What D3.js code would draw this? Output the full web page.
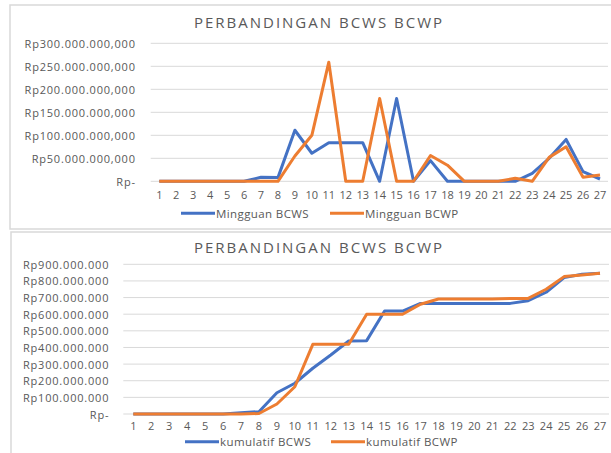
<!DOCTYPE html>
<html>
<head>
<meta charset="utf-8">
<script src="https://cdn.jsdelivr.net/npm/d3@7"></script>
<style>
  body { margin: 0; background: #fff; }
  svg text { font-family: "Open Sans", "Noto Sans", sans-serif; fill: #595959; }
</style>
</head>
<body>
<div id="graph"></div>
<script>
/* data (Rupiah) */
var weeks = d3.range(1, 28);
var bcwsWeekly = [0, 0, 0, 0, 0, 0, 8.7e6, 8e6, 111e6, 61e6, 84e6, 84e6, 84e6, 0, 180e6, 0, 45e6, 0, 0, 0, 0, 0, 17e6, 50e6, 91e6, 21e6, 5e6];
var bcwpWeekly = [0, 0, 0, 0, 0, 0, 0, 0, 55e6, 100e6, 259e6, 0, 0, 180e6, 0, 0, 56e6, 35e6, 0, 0, 0, 6.5e6, 0, 52e6, 75e6, 8.7e6, 13.7e6];
var bcwsCum = [0, 0, 0, 0, 0, 0, 8e6, 14e6, 128e6, 185e6, 275e6, 355e6, 439e6, 441e6, 619e6, 619e6, 665e6, 665e6, 665e6, 665e6, 665e6, 665e6, 681e6, 732e6, 820e6, 840e6, 846e6];
var bcwpCum = [0, 0, 0, 0, 0, 0, 0, 3e6, 60e6, 164e6, 419e6, 419e6, 419e6, 600e6, 600e6, 600e6, 660e6, 691e6, 691e6, 691e6, 691e6, 695e6, 695e6, 750e6, 826e6, 835e6, 846e6];
var weeklyTicks = [0, 50e6, 100e6, 150e6, 200e6, 250e6, 300e6];
var cumTicks = d3.range(0, 900e6 + 1, 100e6);
var chartTitle = "PERBANDINGAN BCWS BCWP";

var blue = "#4472C4", orange = "#ED7D31";

var idr = d3.formatLocale({ decimal: ",", thousands: ".", grouping: [3], currency: ["Rp", ""] });

var svg = d3.select("#graph").append("svg")
  .attr("width", 611)
  .attr("height", 453);

// one excel-ish chart box
function drawChart(cfg) {
  var g = svg.append("g");

  g.append("rect")
    .attr("x", cfg.box[0]).attr("y", cfg.box[1])
    .attr("width", cfg.box[2]).attr("height", cfg.box[3])
    .attr("fill", "#fff")
    .attr("stroke", "#d9d9d9")
    .attr("stroke-width", 1.5);

  g.append("text")
    .attr("x", 319).attr("y", cfg.titleY)
    .attr("text-anchor", "middle")
    .attr("dominant-baseline", "central")
    .style("font-size", "15px")
    .style("letter-spacing", "2px")
    .text(chartTitle);

  var x = d3.scalePoint().domain(weeks).range(cfg.xRange);
  var y = d3.scaleLinear().domain(cfg.yDomain).range(cfg.yRange);

  // gridlines
  g.selectAll(".grid").data(cfg.ticks).enter().append("line")
    .attr("x1", cfg.gridX[0]).attr("x2", cfg.gridX[1])
    .attr("y1", function(d) { return y(d); })
    .attr("y2", function(d) { return y(d); })
    .attr("stroke", "#d9d9d9")
    .attr("stroke-width", 1);

  // y labels
  g.selectAll(".ylab").data(cfg.ticks).enter().append("text")
    .attr("x", cfg.yLabelX + 0.8)
    .attr("y", function(d) { return y(d); })
    .attr("text-anchor", "end")
    .attr("dominant-baseline", "central")
    .style("font-size", "11px")
    .style("letter-spacing", "0.8px")
    .text(function(d) { return d === 0 ? "Rp-" : idr.format(cfg.fmt)(d); });

  // x labels
  g.selectAll(".xlab").data(weeks).enter().append("text")
    .attr("x", function(d) { return x(d); })
    .attr("y", cfg.xLabelY)
    .attr("text-anchor", "middle")
    .attr("dominant-baseline", "central")
    .style("font-size", "11px")
    .text(function(d) { return d; });

  var line = d3.line()
    .x(function(d, i) { return x(weeks[i]); })
    .y(function(d) { return y(d); });

  cfg.series.forEach(function(s) {
    g.append("path")
      .datum(s.values)
      .attr("d", line)
      .attr("fill", "none")
      .attr("stroke", s.color)
      .attr("stroke-width", 3)
      .attr("stroke-linejoin", "round");
  });

  // legend
  var lx = cfg.legendX;
  cfg.series.forEach(function(s, i) {
    var ox = lx[i];
    g.append("line")
      .attr("x1", ox).attr("x2", ox + 34)
      .attr("y1", cfg.legendY).attr("y2", cfg.legendY)
      .attr("stroke", s.color)
      .attr("stroke-width", 3);
    g.append("text")
      .attr("x", ox + 35).attr("y", cfg.legendY)
      .attr("dominant-baseline", "central")
      .style("font-size", "11.5px")
      .style("letter-spacing", "0.4px")
      .text(s.name);
  });
}

drawChart({
  box: [10, 5, 610, 224],
  titleY: 22,
  xRange: [159.3, 600],
  yDomain: [0, 300e6],
  yRange: [181.3, 43.3],
  gridX: [150.7, 608],
  ticks: weeklyTicks,
  fmt: "$,.3f",
  yLabelX: 135,
  xLabelY: 194,
  legendY: 213.3,
  legendX: [181, 330],
  series: [
    { name: "Mingguan BCWS", values: bcwsWeekly, color: blue },
    { name: "Mingguan BCWP", values: bcwpWeekly, color: orange }
  ]
});

drawChart({
  box: [11, 232, 610, 240],
  titleY: 247,
  xRange: [133.3, 600],
  yDomain: [0, 900e6],
  yRange: [414, 264.3],
  gridX: [123.3, 609],
  ticks: cumTicks,
  fmt: "$,.0f",
  yLabelX: 108.5,
  xLabelY: 425,
  legendY: 441.7,
  legendX: [185, 331],
  series: [
    { name: "kumulatif BCWS", values: bcwsCum, color: blue },
    { name: "kumulatif BCWP", values: bcwpCum, color: orange }
  ]
});
</script>
</body>
</html>
